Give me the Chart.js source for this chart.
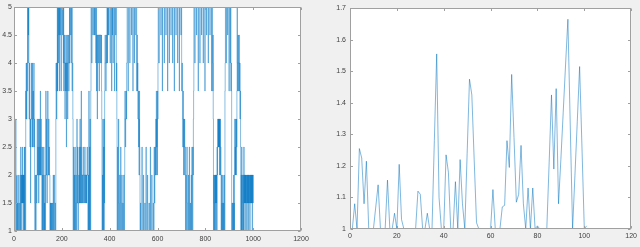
<!DOCTYPE html>
<html><head><meta charset="utf-8">
<script src="https://cdn.jsdelivr.net/npm/chart.js@4"></script>
<style>
html,body{margin:0;padding:0;background:#f0f0f0;width:640px;height:247px;overflow:hidden}
canvas{position:absolute;top:0}
</style></head><body>
<canvas id="c1" width="315" height="247" style="left:0"></canvas>
<canvas id="c2" width="320" height="247" style="left:320px"></canvas>
<script>
// Left panel: sample index where the level changes, and the level held from there
const leftX = [
1,2,7,8,9,11,12,14,15,17,18,21,22,25,26,28,29,31,32,33,34,35,36,37,38,39,40,41,42,43,44,46,47,
49,50,51,52,54,55,57,58,59,60,61,62,
63,65,66,67,68,69,70,71,73,74,76,77,78,79,80,81,83,84,85,
86,87,89,90,93,94,
96,97,98,100,101,102,103,104,106,107,108,109,110,111,113,114,115,
117,118,119,121,122,124,125,127,128,129,130,
132,133,134,136,137,138,139,141,142,143,145,146,147,148,
150,152,153,154,155,157,158,160,161,164,165,167,168,169,172,173,
175,176,177,178,179,180,181,182,183,184,185,186,188,189,190,191,
193,194,197,198,202,203,206,207,208,209,
211,212,213,214,215,216,217,218,219,220,221,222,223,224,225,227,228,229,230,
232,233,234,237,238,241,242,243,244,246,
247,249,250,252,253,255,256,257,259,260,
262,263,264,266,267,268,269,271,272,273,274,276,277,279,280,281,282,283,
285,286,287,289,290,291,292,294,295,296,297,299,300,301,302,303,304,306,307,
309,311,312,313,314,316,317,318,319,
321,322,325,326,330,331,335,336,338,339,342,343,345,346,
348,349,352,353,356,357,360,361,364,365,366,367,
368,370,371,372,373,375,376,377,378,
379,380,381,382,384,385,386,387,
389,390,391,393,394,396,397,402,403,408,409,411,412,414,415,420,421,425,426,428,429,
430,431,433,434,437,438,439,442,443,446,447,448,451,452,455,456,459,460,
462,463,464,465,466,467,469,470,
471,473,477,478,484,485,491,492,497,498,503,504,509,510,513,514,516,517,518,
520,521,522,523,524,525,526,
527,529,530,535,536,541,542,547,548,552,553,558,559,560,565,566,570,571,576,577,582,583,586,587,589,590,591,
593,594,595,596,598,599,600,601,
602,603,606,607,614,615,620,621,628,629,635,636,642,643,649,650,656,657,663,664,670,671,677,678,684,685,691,692,698,699,701,703,704,
705,706,707,708,709,710,711,713,714,715,716,
717,719,720,723,724,725,729,730,733,734,737,738,741,742,744,745,746,748,749,
750,751,752,756,757,763,764,770,771,777,778,784,785,791,792,798,799,805,806,812,813,819,820,826,827,830,831,832,833,
834,835,836,837,838,839,840,841,842,843,844,845,846,847,848,849,850,851,
852,853,854,855,856,857,858,859,860,861,862,863,864,865,
866,868,869,870,871,873,874,876,877,879,880,
882,883,884,887,888,893,894,899,900,904,905,907,908,909,
910,912,913,915,916,918,919,920,921,
922,923,924,925,926,927,928,929,930,931,
932,933,934,935,936,937,938,939,940,941,942,943,944,945,946,947,
948,950,951,952,953,955,956,957,959,960,961,962,963,964,965,966,967,968,969,970,971,972,973,974,975,976,977,978,979,980,981,982,983,984,985,986,987,988,989,990,991,992,993,994,995,996,997,998,999,1000
];
const leftY = [
1.5,1,3,1.5,1,2,1,1.5,1,2,1,1.5,1,2,1,2.5,1,2,1.5,2,1.5,2.5,1.5,2,1,2,1.5,2,1,2.5,1,2.5,1,
3.5,3,4,3,4,3.5,5,4,5,4.5,5,4,
3,4,3,2.5,3,1.5,2.5,3,4,3,2.5,4,3,2.5,3.5,3,4,2.5,3,
1.5,1,2,1,2,1.5,
2,3,2,2.5,2,3,1.5,2,3,2,2.5,2,3.5,2,3,2.5,2,
1,2.5,1,2,1,2.5,1,1.5,1,2,1,
2,3.5,2,3,2,1.5,2,3.5,2.5,2,3,2,2.5,2,
1,1.5,1,1.5,1,1.5,1,1.5,1,2,1,1.5,2,1,1.5,1,
3,4,3.5,3,4,3.5,5,3.5,4.5,5,4,5,4.5,5,3.5,5,
4.5,5,3.5,5,4.5,5,4,5,3.5,4,
4.5,4,3,4,3.5,4,4.5,4,2.5,4,3.5,4.5,4,3,4,4.5,4,3.5,4,
5,4,5,4.5,5,4,5,3.5,4,3,
1,2.5,1,2,1,2.5,1.5,1,2,1,
1.5,3,1.5,2.5,1.5,1,1.5,2,1.5,2.5,1.5,3,1.5,2.5,1.5,3.5,2,1.5,
2,1.5,2,2.5,2,1.5,2,1.5,2,2.5,2,1.5,2,1.5,2,1.5,2,2.5,2,
1,2,1,3.5,1,2.5,1,3,1,
3.5,5,4,5,4.5,5,4.5,5,4.5,5,4,5,3.5,4.5,
3,4.5,4,4.5,3.5,4.5,4,4.5,4,4.5,3.5,3,
1,2,1,3,1,2.5,1,3,1.5,
3.5,4,4.5,4,3.5,4,4.5,4,
5,4,5,4.5,5,4.5,5,4,5,3.5,5,4.5,5,4,5,3.5,5,4.5,5,3.5,4,
3,1,2.5,1,3,1.5,1,2,1,2.5,1.5,1,2,1,1.5,1,2,1,
2,3,3.5,3,2.5,3,3.5,3,
4,5,3.5,5,4,5,4.5,5,3.5,5,4,5,4.5,5,3.5,4.5,3.5,4,3,
3.5,2.5,3,2,3.5,2.5,2,
1,1.5,1,2.5,1,2,1,1.5,1,2.5,1,2,1.5,1,1.5,1,2.5,1,2,1,1.5,1,2.5,1.5,2,2.5,2,
3,2,3.5,2.5,3,2,3.5,3,
4,5,4,5,4.5,5,3.5,5,4,5,4.5,5,3.5,5,4,5,4.5,5,4,5,3.5,5,4.5,5,4,5,3.5,5,4.5,5,3.5,4,3.5,
3,2.5,3.5,2.5,2,3,2.5,3,2,2.5,2,
1,2,1,2.5,1.5,1,2,1,2.5,1,1.5,1,2,1,2.5,2,1,2.5,2,
3,3.5,5,4,5,4.5,5,3.5,5,4,5,4.5,5,4,5,3.5,5,4.5,5,4,5,4.5,5,3.5,5,4,3.5,4.5,3,
1,2,1.5,1,2,1.5,1,2,1.5,2,1,2,1.5,2,1,2.5,2,2.5,
3,2.5,3,2.5,3,2.5,3,2,3,2.5,3,2,2.5,2,
1,2,1,1.5,1,2,1,1.5,1,2,1,
3.5,4,5,4,5,4.5,5,3.5,5,4,5,3.5,4,3.5,
1,1.5,1,1.5,1,2,1,1.5,1,
2,3,2,2.5,2,3,2.5,2,3,2.5,
3.5,5,4,3.5,4,4.5,4,3.5,4,4.5,4,3.5,4,3,3.5,2.5,
1,2,1,2.5,1,2,1.5,1,2,1,2.5,1.5,2,1.5,2,1,2,1.5,2,1.5,2,1.5,1,2,1.5,2,1.5,2,1,2,1.5,2,1.5,2,1.5,1,2,1.5,2,1.5,2,1.5,2,1.5,2,1,2,1.5,2,1.5
];
const leftXTicks = [0,200,400,600,800,1000,1200];
const leftYTicks = [1,1.5,2,2.5,3,3.5,4,4.5,5];

// Right panel: one value per sample, x = 1..101
const rightValues = [
1.0,1.08,1.0,1.255,1.225,1.08,1.215,1.0,1.0,1.0,
1.07,1.14,1.0,1.0,1.0,1.155,1.0,1.0,1.05,1.0,
1.205,1.03,1.0,1.0,1.0,1.0,1.0,1.0,1.12,1.11,
1.0,1.0,1.05,1.0,1.0,1.28,1.555,1.1,1.0,1.0,
1.235,1.18,1.0,1.0,1.15,1.0,1.22,1.08,1.0,1.24,
1.475,1.425,1.22,1.02,1.0,1.0,1.0,1.0,1.0,1.0,
1.125,1.0,1.0,1.0,1.07,1.075,1.28,1.195,1.49,1.29,
1.085,1.11,1.265,1.08,1.0,1.13,1.0,1.13,1.0,1.01,
1.0,1.0,1.0,1.0,1.21,1.425,1.19,1.445,1.08,1.22,
1.37,1.52,1.665,1.33,1.0,1.17,1.34,1.515,1.26,1.0,
1.01
];
const rightXTicks = [0,20,40,60,80,100,120];
const rightYTicks = [1,1.1,1.2,1.3,1.4,1.5,1.6,1.7];

const FONT = {family:"'Liberation Sans', Arial, Helvetica, sans-serif", size:7};
const TICK_COLOR = '#404040';

const framePlugin = {
  id:'frame',
  beforeDraw(chart){
    const {ctx, chartArea:a} = chart;
    ctx.save(); ctx.fillStyle='#ffffff';
    ctx.fillRect(a.left, a.top, a.right-a.left, a.bottom-a.top);
    ctx.restore();
  },
  afterDraw(chart){
    const {ctx, chartArea:a, scales:{x,y}} = chart;
    ctx.save();
    ctx.strokeStyle='#a0a0a0'; ctx.lineWidth=1;
    const L=Math.round(a.left)+0.5, R=Math.round(a.right)-0.5, T=Math.round(a.top)+0.5, B=Math.round(a.bottom)-0.5;
    ctx.strokeRect(L,T,R-L,B-T);
    const len=2.5;
    ctx.beginPath();
    x.ticks.forEach(t=>{const p=Math.round(x.getPixelForValue(t.value))+0.5; ctx.moveTo(p,B); ctx.lineTo(p,B-len); ctx.moveTo(p,T); ctx.lineTo(p,T+len);});
    y.ticks.forEach(t=>{const p=Math.round(y.getPixelForValue(t.value))+0.5; ctx.moveTo(L,p); ctx.lineTo(L+len,p); ctx.moveTo(R,p); ctx.lineTo(R-len,p);});
    ctx.stroke();
    ctx.restore();
  }
};

function makeChart(id, points, opts){
  return new Chart(document.getElementById(id), {
    type:'line',
    data:{datasets:[{data:points, borderColor:opts.color, borderWidth:opts.width, pointRadius:0, tension:0, stepped:opts.stepped, fill:false}]},
    options:{
      responsive:false, animation:false, events:[],
      layout:{padding:{left:0,right:opts.padRight,top:opts.padTop,bottom:0}},
      plugins:{legend:{display:false}, tooltip:{enabled:false}},
      scales:{
        x:{type:'linear', min:opts.xTicks[0], max:opts.xTicks[opts.xTicks.length-1],
           grid:{display:false, drawTicks:false}, border:{display:false},
           afterBuildTicks:s=>{s.ticks=opts.xTicks.map(v=>({value:v}));},
           afterFit:s=>{s.height=opts.xAxisH;},
           ticks:{font:FONT, color:TICK_COLOR, padding:opts.xPad, maxRotation:0, autoSkip:false, callback:(v)=>String(v)}},
        y:{type:'linear', min:opts.yTicks[0], max:opts.yTicks[opts.yTicks.length-1],
           grid:{display:false, drawTicks:false}, border:{display:false},
           afterBuildTicks:s=>{s.ticks=opts.yTicks.map(v=>({value:v}));},
           afterFit:s=>{s.width=opts.yAxisW;},
           ticks:{font:FONT, color:TICK_COLOR, padding:opts.yPad, autoSkip:false, callback:(v)=>String(v)}}
      }
    },
    plugins:[framePlugin]
  });
}

makeChart('c1', leftX.map((x,i)=>({x:x, y:leftY[i]})), {
  color:'rgba(0,118,196,0.8)', width:0.6, stepped:true,
  xTicks:leftXTicks, yTicks:leftYTicks,
  padRight:14, padTop:7, xAxisH:16, yAxisW:14, xPad:4, yPad:2
});
makeChart('c2', rightValues.map((v,i)=>({x:i+1, y:v})), {
  color:'rgba(0,114,189,0.5)', width:1, stepped:false,
  xTicks:rightXTicks, yTicks:rightYTicks,
  padRight:8, padTop:8, xAxisH:18, yAxisW:30, xPad:3, yPad:4
});
</script>
</body></html>
